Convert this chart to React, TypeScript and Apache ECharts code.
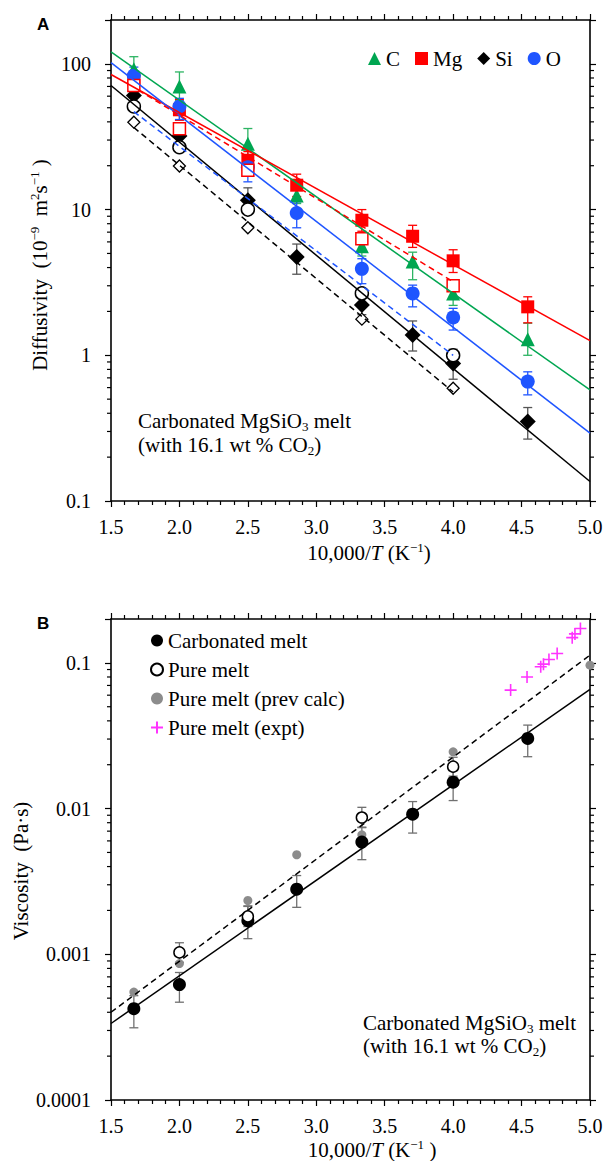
import React, { useEffect, useRef } from "react";
import * as echarts from "echarts";

// ---------- axes ----------
const X_MIN = 1.5;
const X_MAX = 5.0;
const X_STEP = 0.5;
const YA_MIN = 0.1;
const YA_MAX = 200;
const YB_MIN = 0.0001;
const YB_MAX = 0.2;
const minorTicksA = [0.2, 0.3, 0.4, 0.5, 0.6, 0.7, 0.8, 0.9, 2, 3, 4, 5, 6, 7, 8, 9, 20, 30, 40, 50, 60, 70, 80, 90];
const minorTicksB = [0.0002, 0.0003, 0.0004, 0.0005, 0.0006, 0.0007, 0.0008, 0.0009, 0.002, 0.003, 0.004, 0.005, 0.006, 0.007, 0.008, 0.009, 0.02, 0.03, 0.04, 0.05, 0.06, 0.07, 0.08, 0.09];

// ---------- panel A: diffusivity (1e-9 m^2/s) ----------
const invT = [1.667, 2.0, 2.5, 2.857, 3.333, 3.704, 4.0, 4.545];

const cVals = [92, 70, 28.3, 12.5, 5.6, 4.4, 2.65, 1.29];
const cLo = [76, 56, 22, 11, 4.8, 3.3, 2.2, 1.0];
const cHi = [112, 88, 36, 14, 6.5, 5.1, 3.0, 1.66];

const mgVals = [78, 48.4, 21.8, 14.7, 8.45, 6.56, 4.45, 2.15];
const mgLo = [69, 41, 19, 12.3, 7.1, 5.5, 3.7, 1.67];
const mgHi = [88, 57, 25, 17.5, 10, 7.8, 5.3, 2.52];

const siVals = [60.7, 32, 11.6, 4.73, 2.21, 1.38, 0.88, 0.351];
const siLo = [54, 28, 9.5, 3.6, 1.9, 1.07, 0.685, 0.266];
const siHi = [68, 37, 14.1, 5.8, 2.6, 1.72, 1.1, 0.438];

const oVals = [83, 51, 19.5, 9.48, 3.92, 2.66, 1.82, 0.66];
const oLo = [73, 41.5, 15.5, 7.5, 3.1, 2.15, 1.49, 0.535];
const oHi = [95, 58, 21, 11.3, 4.6, 3.03, 2.1, 0.77];

const pureX = [1.667, 2.0, 2.5, 3.333, 4.0];
const mgPure = [71, 35.9, 18.6, 6.3, 3.0];
const siPure = [39.8, 19.9, 7.5, 1.77, 0.594];
const oPure = [51, 26.8, 10, 2.66, 1.0];

// fitted lines: [x, y] end points
const cFit = [[1.5, 121], [5.0, 0.578]];
const mgFit = [[1.5, 84.5], [5.0, 1.26]];
const siFit = [[1.5, 71], [5.0, 0.136]];
const oFit = [[1.5, 102], [5.0, 0.292]];
const mgPureFit = [[1.7, 66], [4.0, 3.2]];
const siPureFit = [[1.667, 36.6], [4.0, 0.56]];
const oPureFit = [[1.667, 47], [4.0, 1.0]];

// ---------- panel B: viscosity (Pa s) ----------
const carbVals = [0.000423, 0.00062, 0.0017, 0.0028, 0.00589, 0.00915, 0.01517, 0.0303];
const carbLo = [0.000313, 0.000469, 0.00128, 0.0021, 0.00446, 0.00679, 0.01135, 0.0227];
const carbHi = [0.00052, 0.00075, 0.00213, 0.00347, 0.00746, 0.01117, 0.0194, 0.0374];

const pureMeltX = [2.0, 2.5, 3.333, 4.0];
const pureMeltVals = [0.00103, 0.00182, 0.00868, 0.0194];
const pureMeltLo = [0.00088, 0.00155, 0.0074, 0.0167];
const pureMeltHi = [0.0012, 0.00215, 0.0102, 0.0225];

const prevX = [1.667, 2.0, 2.5, 2.857, 3.333, 4.0, 5.0];
const prevVals = [0.00055, 0.000863, 0.00234, 0.00482, 0.0066, 0.0245, 0.0964];

const exptX = [4.42, 4.54, 4.64, 4.66, 4.7, 4.76, 4.87, 4.89, 4.93];
const exptVals = [0.065, 0.08, 0.094, 0.098, 0.1055, 0.116, 0.149, 0.158, 0.172];

const carbFit = [[1.5, 0.000335], [5.0, 0.0658]];
const pureFit = [[1.5, 0.0004], [5.0, 0.113]];

// ---------- styles ----------
const SERIF = "Liberation Serif";
const SANS = "Liberation Sans";
const GREEN = "#00A651";
const RED = "#FF0000";
const BLUE = "#1F55FF";
const BLACK = "#000000";
const GREY = "#8C8C8C";
const MAGENTA = "#FF33FF";

const logLabel = (v: number) => {
  const e = Math.log10(v);
  const r = Math.round(e);
  if (Math.abs(e - r) > 1e-6) return "";
  return r >= 0 ? String(Math.pow(10, r)) : "0." + "0".repeat(-r - 1) + "1";
};

const pair = (xs: number[], ys: number[]) => xs.map((x, i) => [x, ys[i]]);

const errSeries = (name: string, xs: number[], lo: number[], hi: number[], color: string, ai: number) => ({
  type: "custom",
  name,
  xAxisIndex: ai,
  yAxisIndex: ai,
  silent: true,
  encode: { x: 0, y: [1, 2] },
  data: xs.map((x, i) => [x, lo[i], hi[i]]),
  renderItem: (params: any, api: any) => {
    const x = api.value(0);
    const p1 = api.coord([x, api.value(1)]);
    const p2 = api.coord([x, api.value(2)]);
    const w = 4.5;
    const st = { stroke: color, lineWidth: 1.3 };
    return {
      type: "group",
      children: [
        { type: "line", shape: { x1: p1[0], y1: p1[1], x2: p2[0], y2: p2[1] }, style: st },
        { type: "line", shape: { x1: p1[0] - w, y1: p1[1], x2: p1[0] + w, y2: p1[1] }, style: st },
        { type: "line", shape: { x1: p2[0] - w, y1: p2[1], x2: p2[0] + w, y2: p2[1] }, style: st },
      ],
    };
  },
});

const minorTickSeries = (vals: number[], ai: number) => ({
  type: "custom",
  name: "minor" + ai,
  xAxisIndex: ai,
  yAxisIndex: ai,
  silent: true,
  data: vals.map((v) => [X_MIN, v]),
  renderItem: (params: any, api: any) => {
    const v = api.value(1);
    const pL = api.coord([X_MIN, v]);
    const pR = api.coord([X_MAX, v]);
    const st = { stroke: BLACK, lineWidth: 1.2 };
    return {
      type: "group",
      children: [
        { type: "line", shape: { x1: pL[0] - 4, y1: pL[1], x2: pL[0], y2: pL[1] }, style: st },
        { type: "line", shape: { x1: pR[0], y1: pR[1], x2: pR[0] + 4, y2: pR[1] }, style: st },
      ],
    };
  },
});

const fitLine = (name: string, data: number[][], color: string, dashed: boolean, ai: number) => ({
  type: "line",
  name,
  xAxisIndex: ai,
  yAxisIndex: ai,
  data,
  symbol: "none",
  silent: true,
  lineStyle: { color, width: 1.5, type: dashed ? [6, 4] : "solid" },
});

const scatter = (name: string, data: number[][], symbol: string, size: number, itemStyle: any, ai: number) => ({
  type: "scatter",
  name,
  xAxisIndex: ai,
  yAxisIndex: ai,
  data,
  symbol,
  symbolSize: size,
  itemStyle: { opacity: 1, ...itemStyle },
  silent: true,
});

const xAxisCfg = (gi: number, top: boolean) => ({
  type: "value",
  gridIndex: gi,
  position: top ? "top" : "bottom",
  min: X_MIN,
  max: X_MAX,
  interval: X_STEP,
  axisLine: { show: true, onZero: false, lineStyle: { color: BLACK, width: 1.6 } },
  axisTick: { show: true, inside: false, length: 6, lineStyle: { color: BLACK, width: 1.2 } },
  minorTick: { show: true, splitNumber: 5, length: 4, lineStyle: { color: BLACK, width: 1.2 } },
  splitLine: { show: false },
  minorSplitLine: { show: false },
  axisLabel: {
    show: !top,
    margin: 16,
    fontFamily: SERIF,
    fontSize: 20,
    color: BLACK,
    showMinLabel: true,
    showMaxLabel: true,
    formatter: (v: number) => v.toFixed(1),
  },
});

const yAxisCfg = (gi: number, right: boolean, min: number, max: number) => ({
  type: "log",
  logBase: 10,
  gridIndex: gi,
  position: right ? "right" : "left",
  min,
  max,
  axisLine: { show: true, onZero: false, lineStyle: { color: BLACK, width: 1.6 } },
  axisTick: { show: true, inside: false, length: 6, lineStyle: { color: BLACK, width: 1.2 } },
  minorTick: { show: false },
  splitLine: { show: false },
  axisLabel: {
    show: !right,
    margin: 20,
    fontFamily: SERIF,
    fontSize: 20,
    color: BLACK,
    formatter: logLabel,
  },
});

const richBase = {
  a: { fontFamily: SERIF, fontSize: 21, fill: BLACK, lineHeight: 24 },
  i: { fontFamily: SERIF, fontSize: 21, fill: BLACK, lineHeight: 24, fontStyle: "italic" },
  sub: { fontFamily: SERIF, fontSize: 13, fill: BLACK, lineHeight: 14, verticalAlign: "bottom" },
  sup: { fontFamily: SERIF, fontSize: 13, fill: BLACK, lineHeight: 14, verticalAlign: "top" },
};

const txt = (x: number, y: number, text: string, align = "left", rotation = 0) => ({
  type: "text",
  x,
  y,
  rotation,
  silent: true,
  style: { text, align, verticalAlign: "middle", rich: richBase, fill: BLACK },
});

const legendText = {
  fontFamily: SERIF,
  fontSize: 21,
  color: BLACK,
  rich: { a: { fontFamily: SERIF, fontSize: 21, color: BLACK } },
};

export default function App() {
  const ref = useRef<HTMLDivElement>(null);
  useEffect(() => {
    document.body.style.margin = "0";
    if (!ref.current) return;
    const chart = echarts.init(ref.current, undefined, { renderer: "svg" });
    const option: any = {
      animation: false,
      backgroundColor: "#ffffff",
      textStyle: { fontFamily: SERIF, color: BLACK },
      grid: [
        { left: 111, top: 20, width: 479, height: 481, outerBoundsMode: "none" },
        { left: 111, top: 619, width: 479, height: 481, outerBoundsMode: "none" },
      ],
      xAxis: [xAxisCfg(0, false), xAxisCfg(1, false), xAxisCfg(0, true), xAxisCfg(1, true)],
      yAxis: [
        yAxisCfg(0, false, YA_MIN, YA_MAX),
        yAxisCfg(1, false, YB_MIN, YB_MAX),
        yAxisCfg(0, true, YA_MIN, YA_MAX),
        yAxisCfg(1, true, YB_MIN, YB_MAX),
      ],
      legend: [
        {
          data: ["C", "Mg", "Si", "O"],
          orient: "horizontal",
          left: 363,
          top: 43,
          itemWidth: 13,
          itemHeight: 13,
          itemGap: 15,
          selectedMode: false,
          formatter: (n: string) => "{a|" + n + "}",
          textStyle: legendText,
        },
        {
          data: ["Carbonated melt", "Pure melt", "Pure melt (prev calc)", "Pure melt (expt)"],
          orient: "vertical",
          left: 145,
          top: 625,
          itemWidth: 12,
          itemHeight: 12,
          itemGap: 8,
          selectedMode: false,
          formatter: (n: string) => "{a|" + n + "}",
          textStyle: legendText,
        },
      ],
      series: [
        minorTickSeries(minorTicksA, 0),
        minorTickSeries(minorTicksB, 1),
        // panel A lines
        fitLine("C fit", cFit, GREEN, false, 0),
        fitLine("Mg fit", mgFit, RED, false, 0),
        fitLine("Si fit", siFit, BLACK, false, 0),
        fitLine("O fit", oFit, BLUE, false, 0),
        fitLine("Mg pure fit", mgPureFit, RED, true, 0),
        fitLine("Si pure fit", siPureFit, BLACK, true, 0),
        fitLine("O pure fit", oPureFit, BLUE, true, 0),
        // panel A error bars
        errSeries("C err", invT, cLo, cHi, "#2DB463", 0),
        errSeries("Mg err", invT, mgLo, mgHi, RED, 0),
        errSeries("Si err", invT, siLo, siHi, "#555555", 0),
        errSeries("O err", invT, oLo, oHi, BLUE, 0),
        // panel A filled
        scatter("C", pair(invT, cVals), "triangle", 14, { color: GREEN }, 0),
        scatter("Mg", pair(invT, mgVals), "rect", 13, { color: RED }, 0),
        scatter("Si", pair(invT, siVals), "diamond", 16, { color: BLACK }, 0),
        scatter("O", pair(invT, oVals), "circle", 14, { color: BLUE }, 0),
        // panel A open (pure melt)
        scatter("Mg (pure)", pair(pureX, mgPure), "rect", 12, { color: "#fff", borderColor: RED, borderWidth: 1.5 }, 0),
        scatter("Si (pure)", pair(pureX, siPure), "diamond", 12, { color: "#fff", borderColor: BLACK, borderWidth: 1.3 }, 0),
        scatter("O (pure)", pair(pureX, oPure), "circle", 13, { color: "#fff", borderColor: BLACK, borderWidth: 1.5 }, 0),
        // panel B
        fitLine("Carbonated fit", carbFit, BLACK, false, 1),
        fitLine("Pure fit", pureFit, BLACK, true, 1),
        errSeries("Carbonated err", invT, carbLo, carbHi, "#707070", 1),
        errSeries("Pure err", pureMeltX, pureMeltLo, pureMeltHi, "#707070", 1),
        scatter("Pure melt (prev calc)", pair(prevX, prevVals), "circle", 9, { color: GREY }, 1),
        scatter("Carbonated melt", pair(invT, carbVals), "circle", 13, { color: BLACK }, 1),
        scatter("Pure melt", pair(pureMeltX, pureMeltVals), "circle", 11, { color: "#fff", borderColor: BLACK, borderWidth: 1.5 }, 1),
        scatter(
          "Pure melt (expt)",
          pair(exptX, exptVals),
          "path://M6,0 L6,12 M0,6 L12,6",
          12,
          { color: "rgba(0,0,0,0)", borderColor: MAGENTA, borderWidth: 1.6 },
          1
        ),
      ],
      graphic: [
        {
          type: "text",
          x: 37,
          y: 24,
          silent: true,
          style: { text: "A", fontFamily: SANS, fontSize: 17, fontWeight: "bold", fill: BLACK, align: "left", verticalAlign: "middle" },
        },
        {
          type: "text",
          x: 37,
          y: 623.5,
          silent: true,
          style: { text: "B", fontFamily: SANS, fontSize: 17, fontWeight: "bold", fill: BLACK, align: "left", verticalAlign: "middle" },
        },
        txt(138, 421, "{a|Carbonated MgSiO}{sub|3}{a| melt}"),
        txt(138, 445, "{a|(with 16.1 wt % CO}{sub|2}{a|)}"),
        txt(363, 1023, "{a|Carbonated MgSiO}{sub|3}{a| melt}"),
        txt(363, 1046, "{a|(with 16.1 wt % CO}{sub|2}{a|)}"),
        txt(369, 553, "{a|10,000/}{i|T}{a| (K}{sup|−1}{a|)}", "center"),
        txt(372, 1150, "{a|10,000/}{i|T}{a| (K}{sup|−1}{a| )}", "center"),
        txt(40, 265, "{a|Diffusivity  (10}{sup|−9}{a|  m}{sup|2}{a|s}{sup|−1}{a| )}", "center", Math.PI / 2),
        txt(21, 871, "{a|Viscosity  (Pa·s)}", "center", Math.PI / 2),
      ],
    };
    chart.setOption(option);
    return () => chart.dispose();
  }, []);
  return <div ref={ref} style={{ width: 606, height: 1161 }} />;
}
